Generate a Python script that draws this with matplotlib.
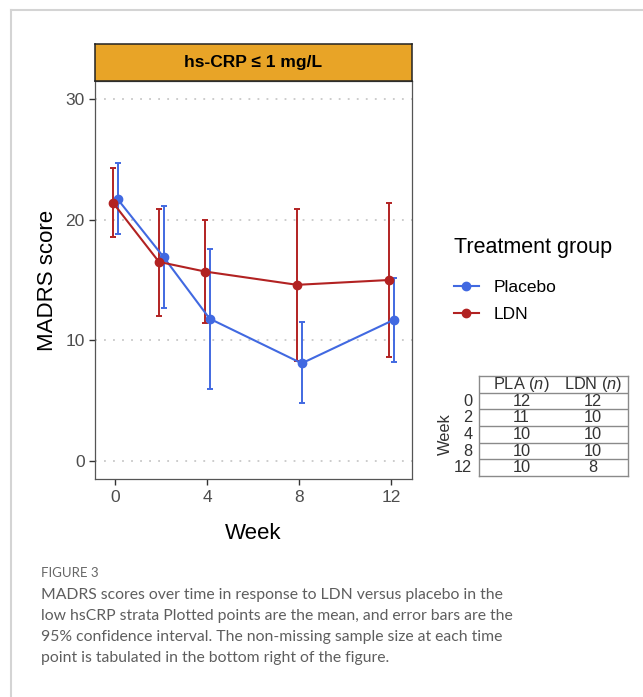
import matplotlib
matplotlib.use("Agg")
import matplotlib.pyplot as plt
from matplotlib.lines import Line2D
import numpy as np

plt.rcParams["font.family"] = ["Liberation Sans", "DejaVu Sans"]
plt.rcParams["mathtext.fontset"] = "custom"
plt.rcParams["mathtext.rm"] = "Liberation Sans"
plt.rcParams["mathtext.it"] = "Liberation Sans:italic"

# data
weeks = [0, 2, 4, 8, 12]
pla_mean = [21.7, 16.9, 11.8, 8.1, 11.7]
pla_lo = [18.8, 12.7, 6.0, 4.8, 8.2]
pla_hi = [24.7, 21.1, 17.6, 11.5, 15.2]
ldn_mean = [21.4, 16.5, 15.7, 14.6, 15.0]
ldn_lo = [18.6, 12.0, 11.4, 8.3, 8.6]
ldn_hi = [24.3, 20.9, 20.0, 20.9, 21.4]
pla_n = [12, 11, 10, 10, 10]
ldn_n = [12, 10, 10, 10, 8]
week_ticks = [0, 4, 8, 12]
y_ticks = [0, 10, 20, 30]

BLUE = "#4169E1"
RED = "#B22222"
W, H = 643, 697


def fx(px):
    return px / W


def fy(py):
    return 1 - py / H


fig = plt.figure(figsize=(W / 100, H / 100), dpi=100)

# outer light frame (top and left edges)
fig.add_artist(Line2D([fx(11), 1], [fy(10), fy(10)], color="#d4d4d4", lw=1.5))
fig.add_artist(Line2D([fx(11), fx(11)], [fy(10), 0], color="#d4d4d4", lw=1.5))

left, right, top, bottom = 95, 411.7, 80.7, 479.3
ax = fig.add_axes([fx(left), fy(bottom), fx(right - left), fy(top) - fy(bottom)])

dodge = 0.1
groups = [
    ("Placebo", pla_mean, pla_lo, pla_hi, BLUE, dodge),
    ("LDN", ldn_mean, ldn_lo, ldn_hi, RED, -dodge),
]
handles = []
for name, mean, lo, hi, col, off in groups:
    x = np.array(weeks) + off
    m = np.array(mean)
    err = [m - np.array(lo), np.array(hi) - m]
    ax.errorbar(x, m, yerr=err, fmt="none", ecolor=col, elinewidth=1.4,
                capsize=2.4, capthick=1.4, zorder=3)
    (ln,) = ax.plot(x, m, color=col, lw=1.5, marker="o", ms=6, zorder=4, label=name)
    handles.append(ln)

ax.set_xlim(-0.88, 12.88)
ax.set_ylim(-1.5, 31.5)
ax.set_xticks(week_ticks)
ax.set_yticks(y_ticks)
ax.yaxis.grid(True, color="#c8c8c8", linestyle=(0, (1, 4)), lw=1.3)
ax.set_axisbelow(True)
ax.tick_params(colors="#333333", labelcolor="#4d4d4d", labelsize=12.5, length=4, width=1)
for s in ax.spines.values():
    s.set_color("#555555")
    s.set_linewidth(0.9)
ax.set_xlabel("Week", fontsize=16, labelpad=13)
ax.set_ylabel("MADRS score", fontsize=16, labelpad=5)

# facet strip
sax = fig.add_axes([fx(left), fy(top), fx(right - left), fy(44) - fy(top)])
sax.set_facecolor("#E8A427")
sax.set_xticks([])
sax.set_yticks([])
for s in sax.spines.values():
    s.set_color("#222222")
    s.set_linewidth(1.1)
sax.text(0.5, 0.5, "hs-CRP ≤ 1 mg/L", ha="center", va="center", fontsize=12.5,
         fontweight="bold", transform=sax.transAxes)

# legend
leg = fig.legend(handles=handles, loc="upper left", bbox_to_anchor=(fx(445), fy(228)),
                 frameon=False, title="Treatment group", title_fontsize=15.5, fontsize=12.5,
                 handlelength=1.45, handletextpad=0.85, labelspacing=0.7, borderpad=0,
                 alignment="left")
leg._legend_box.sep = 16

# sample size table
t_left, t_right, t_top, t_bot = 479, 627.7, 376, 476
tax = fig.add_axes([fx(t_left), fy(t_bot), fx(t_right - t_left), fy(t_top) - fy(t_bot)])
nrow = len(weeks) + 1
tax.set_xlim(0, 2)
tax.set_ylim(nrow, 0)
tax.set_xticks([])
tax.set_yticks([])
for s in tax.spines.values():
    s.set_color("#8a8a8a")
    s.set_linewidth(1)
for r in range(1, nrow):
    tax.axhline(r, color="#8a8a8a", lw=1)
tfs = 11.8
tax.text(0.57, 0.52, "PLA ($n$)", ha="center", va="center", fontsize=tfs, color="#333333")
tax.text(1.53, 0.52, "LDN ($n$)", ha="center", va="center", fontsize=tfs, color="#333333")
for i, wk in enumerate(weeks):
    yy = i + 1.52
    tax.text(0.57, yy, str(pla_n[i]), ha="center", va="center", fontsize=tfs, color="#333333")
    tax.text(1.53, yy, str(ldn_n[i]), ha="center", va="center", fontsize=tfs, color="#333333")
    tax.text(-0.09, yy, str(wk), ha="right", va="center", fontsize=tfs, color="#333333",
             clip_on=False)
fig.text(fx(445), fy(434), "Week", rotation=90, ha="center", va="center", fontsize=tfs,
         color="#333333")

# caption
cap_font = ["Lato", "DejaVu Sans"]
fig.text(fx(41), fy(573), "FIGURE 3", ha="left", va="center", fontsize=9.5, color="#666666",
         family=cap_font)
cap_lines = [
    "MADRS scores over time in response to LDN versus placebo in the",
    "low hsCRP strata Plotted points are the mean, and error bars are the",
    "95% confidence interval. The non-missing sample size at each time",
    "point is tabulated in the bottom right of the figure.",
]
for i, line in enumerate(cap_lines):
    fig.text(fx(41), fy(595 + 21 * i), line, ha="left", va="center", fontsize=11.3,
             color="#5e5e5e", family=cap_font)

fig.savefig("out.png", dpi=100)
